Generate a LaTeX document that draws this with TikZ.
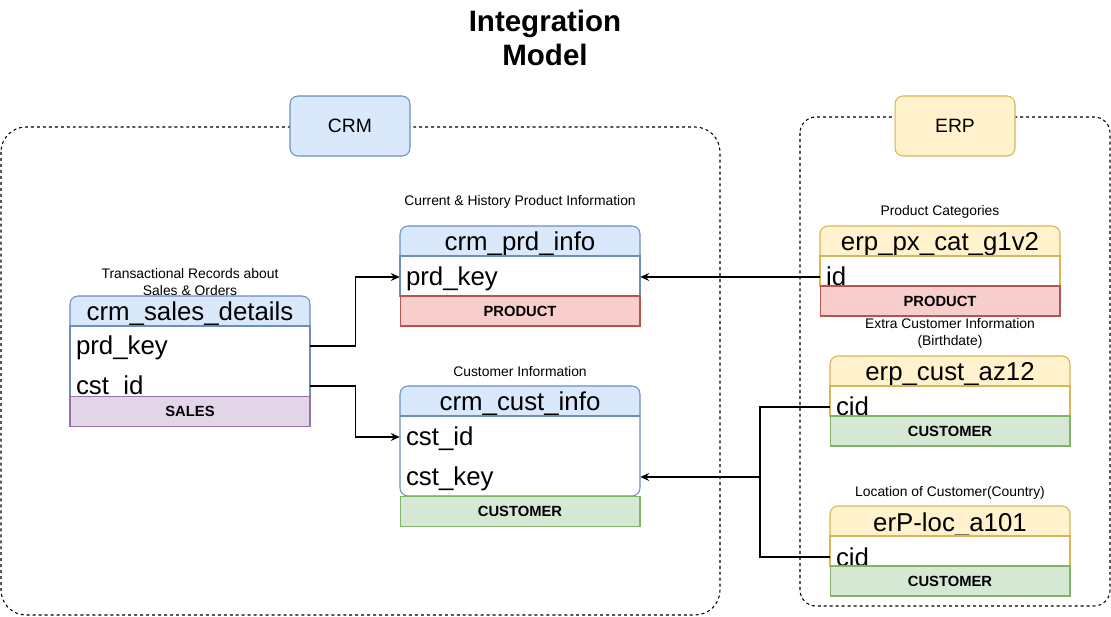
\documentclass[tikz,border=0pt]{standalone}
\usepackage{fontspec}
\setmainfont{Liberation Sans}
\usetikzlibrary{arrows.meta}
\definecolor{bluefill}{HTML}{DAE8FC}\definecolor{bluedraw}{HTML}{6C8EBF}
\definecolor{yellowfill}{HTML}{FFF2CC}\definecolor{yellowdraw}{HTML}{D6B656}
\definecolor{redfill}{HTML}{F8CECC}\definecolor{reddraw}{HTML}{B85450}
\definecolor{greenfill}{HTML}{D5E8D4}\definecolor{greendraw}{HTML}{82B366}
\definecolor{purplefill}{HTML}{E1D5E7}\definecolor{purpledraw}{HTML}{9673A6}
\tikzset{
  zone/.style={draw=black, dash pattern=on 1.7pt off 1.7pt, line width=0.6pt},
  sysbox/.style={draw=#1draw, fill=#1fill, rounded corners=0.16cm, line width=0.6pt,
    minimum width=2.4cm, minimum height=1.2cm, font=\fontsize{11}{13}\selectfont},
  head/.style={draw=#1draw, fill=#1fill, rounded corners=0.16cm, line width=0.6pt},
  body/.style={draw=#1draw, fill=white, line width=0.6pt},
  tname/.style={anchor=base, inner sep=0pt, font=\fontsize{14.7}{17}\selectfont},
  field/.style={minimum width=4.8cm, text width=4.56cm, inner xsep=0.12cm, inner ysep=0pt,
    text height=0.4cm, text depth=0.04cm, align=left, font=\fontsize{14.7}{17}\selectfont},
  band/.style={draw=#1draw, fill=#1fill, minimum width=4.8cm, minimum height=0.6cm,
    inner sep=0pt, line width=0.6pt, font=\bfseries\fontsize{8.4}{10}\selectfont},
  note/.style={align=center, inner sep=0pt, font=\fontsize{7.9}{9.6}\selectfont},
  link/.style={line width=0.6pt, -{Stealth[length=5pt,width=4.5pt]}}
}
\begin{document}
\begin{tikzpicture}[x=0.02cm, y=-0.02cm]
  \useasboundingbox (0,0) rectangle (1111,617);
  \node[font=\bfseries\fontsize{16.8}{19.8}\selectfont, align=center] (title) at (545,38) {Integration\\Model};
  % source containers
  \draw[zone, rounded corners=0.5cm] (1,127) rectangle (720,615);
  \draw[zone, rounded corners=0.32cm] (800,117) rectangle (1110,606);
  \node[sysbox=blue] (crm) at (350,126) {CRM};
  \node[sysbox=yellow] (erp) at (955,126) {ERP};

  % crm_sales_details
  \node[note] (sd-n) at (190,282) {Transactional Records about\\Sales \& Orders};
  \draw[head=blue] (70,326) |- (190,296) -| (310,326);
  \node[tname] (sd-h) at (190,321) {crm\_sales\_details};
  \draw[body=blue] (70,326) rectangle (310,397);
  \node[field] (sd-prd) at (190,346) {prd\_key};
  \node[field] (sd-cst) at (190,386) {cst\_id};
  \node[band=purple] (sd-b) at (190,411.5) {SALES};

  % crm_prd_info
  \node[note] (pi-n) at (520,202) {Current \& History Product Information};
  \draw[head=blue] (400,256) |- (520,226) -| (640,256);
  \node[tname] (pi-h) at (520,251) {crm\_prd\_info};
  \draw[body=blue] (400,256) rectangle (640,296);
  \node[field] (pi-prd) at (520,277) {prd\_key};
  \node[band=red] (pi-b) at (520,311) {PRODUCT};

  % crm_cust_info
  \node[note] (ci-n) at (520,372) {Customer Information};
  \draw[head=blue] (400,416) |- (520,386) -| (640,416);
  \node[tname] (ci-h) at (520,411) {crm\_cust\_info};
  \draw[body=blue, rounded corners=0.16cm] (400,416) |- (520,496) -| (640,416);
  \draw[bluedraw, line width=0.6pt] (400,416) -- (640,416);
  \node[field] (ci-id) at (520,437) {cst\_id};
  \node[field] (ci-key) at (520,477) {cst\_key};
  \node[band=green] (ci-b) at (520,511.5) {CUSTOMER};

  % erp_px_cat_g1v2
  \node[note] (pc-n) at (940,212) {Product Categories};
  \draw[head=yellow] (820,256) |- (940,226) -| (1060,256);
  \node[tname] (pc-h) at (940,251) {erp\_px\_cat\_g1v2};
  \draw[body=yellow] (820,256) rectangle (1060,286);
  \node[field] (pc-id) at (940,277) {id};
  \node[band=red] (pc-b) at (940,301) {PRODUCT};

  % erp_cust_az12
  \node[note] (ca-n) at (950,333) {Extra Customer Information\\(Birthdate)};
  \draw[head=yellow] (830,386) |- (950,356) -| (1070,386);
  \node[tname] (ca-h) at (950,381) {erp\_cust\_az12};
  \draw[body=yellow] (830,386) rectangle (1070,416);
  \node[field] (ca-cid) at (950,407) {cid};
  \node[band=green] (ca-b) at (950,431) {CUSTOMER};

  % erP-loc_a101
  \node[note] (la-n) at (950,493) {Location of Customer(Country)};
  \draw[head=yellow] (830,536) |- (950,506) -| (1070,536);
  \node[tname] (la-h) at (950,531) {erP-loc\_a101};
  \draw[body=yellow] (830,536) rectangle (1070,566);
  \node[field] (la-cid) at (950,557) {cid};
  \node[band=green] (la-b) at (950,581) {CUSTOMER};

  % connectors
  \draw[link] (sd-prd.east) -- ++(45,0) |- (pi-prd.west);
  \draw[link] (sd-cst.east) -- ++(45,0) |- (ci-id.west);
  \draw[link] (pc-id.west) -- (pi-prd.east);
  \coordinate (jn) at (760,477);
  \draw[link] (ca-cid.west) -| (jn) -- (ci-key.east);
  \draw[line width=0.6pt] (la-cid.west) -| (jn);
\end{tikzpicture}
\end{document}
